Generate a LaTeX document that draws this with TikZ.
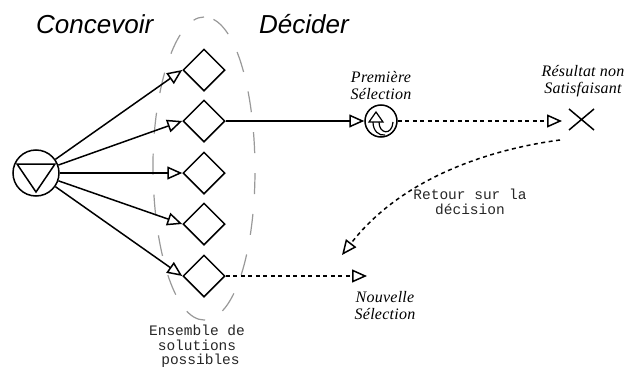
\documentclass[tikz,border=0pt]{standalone}
\usepackage{fontspec}
\setmainfont{Liberation Serif}
\setsansfont{Liberation Sans}
\setmonofont{Liberation Mono}
\usetikzlibrary{shapes.geometric,arrows.meta,calc}
\begin{document}
\begin{tikzpicture}[x=1pt,y=-1pt,
 dia/.style={draw,line width=1.5pt,diamond,minimum width=42pt,minimum height=42pt,inner sep=0pt,aspect=1},
 arr/.style={line width=1.5pt,-{Triangle[open,length=15pt,width=13pt,line width=1.5pt]}},
 dotarr/.style={arr,dash pattern=on 4pt off 3.5pt},
 head/.style={font=\sffamily\itshape\fontsize{26}{28}\selectfont,anchor=base west,inner sep=0pt},
 ital/.style={font=\itshape\fontsize{16}{17}\addfontfeatures{LetterSpace=1.5}\selectfont,align=center,inner sep=0pt},
 mono/.style={font=\ttfamily\fontsize{14.5}{14.4}\selectfont,text=black!85,align=center,inner sep=0pt}]
\useasboundingbox (0,0) rectangle (625,367);
\fill[white] (0,0) rectangle (625,367);
\draw[black!40,line width=1.2pt,dash pattern=on 21pt off 20pt,dash phase=10pt] (204,17) .. controls (175,17) and (153,90) .. (153,165) .. controls (153,250) and (175,320) .. (204,320) .. controls (235,320) and (255,250) .. (255,170) .. controls (255,90) and (235,17) .. (204,17);
\node[head] (hc) at (36,33) {Concevoir};
\node[head] (hd) at (259,33) {Décider};
\node[draw,circle,line width=1.5pt,minimum size=46pt,inner sep=0pt] (src) at (36,173) {};
\draw[line width=1.5pt] ($(src)+(-19,-9)$) -- ($(src)+(19,-9)$) -- ($(src)+(0,19)$) -- cycle;
\node[dia] (d1) at (204,70) {};
\node[dia] (d2) at (204,121) {};
\node[dia] (d3) at (204,173) {};
\node[dia] (d4) at (204,224) {};
\node[dia] (d5) at (204,276) {};
\foreach \d in {d1,d2,d3,d4,d5} \draw[arr] (src) -- (\d.west);
\node[draw,circle,line width=1.5pt,minimum size=32pt,inner sep=0pt] (sel) at (381,121) {};
\draw[line width=1.2pt] ($(sel)+(-12,1)$) -- ($(sel)+(-5,-9)$) -- ($(sel)+(2,1)$) -- cycle;
\draw[line width=1.2pt] ($(sel)+(-8,1)$) .. controls ($(sel)+(-8,10)$) and ($(sel)+(-2,15)$) .. ($(sel)+(4,14)$);
\draw[line width=1.2pt] ($(sel)+(-2,1)$) .. controls ($(sel)+(-2,13)$) and ($(sel)+(11,15)$) .. ($(sel)+(12,1)$);
\draw[arr] (d2.east) -- (sel.west);
\coordinate (xc) at (581.5,119.5);
\draw[line width=1.5pt] ($(xc)+(-12.5,-10.5)$) -- ($(xc)+(12.5,10.5)$) ($(xc)+(-12.5,10.5)$) -- ($(xc)+(12.5,-10.5)$);
\coordinate (xl) at (562,121);
\draw[dotarr] (sel.east) -- (xl);
\coordinate (rs) at (560,140);
\coordinate (re) at (342,255);
\draw[dotarr] (rs) .. controls (485,150) and (400,180) .. (re);
\coordinate (ne) at (367,276);
\draw[dotarr] (d5.east) -- (ne);
\node[ital] (l1) at (381,85.5) {Première\\Sélection};
\node[ital] (l2) at (583,81) {Résultat non\\Satisfaisant};
\node[ital] (l3) at (385,305.5) {Nouvelle\\Sélection};
\node[mono] (l4) at (470,202) {Retour sur la\\décision};
\node[mono] (l5) at (197,346.5) {Ensemble de\\solutions\\\hspace*{7pt}possibles};
\end{tikzpicture}
\end{document}
